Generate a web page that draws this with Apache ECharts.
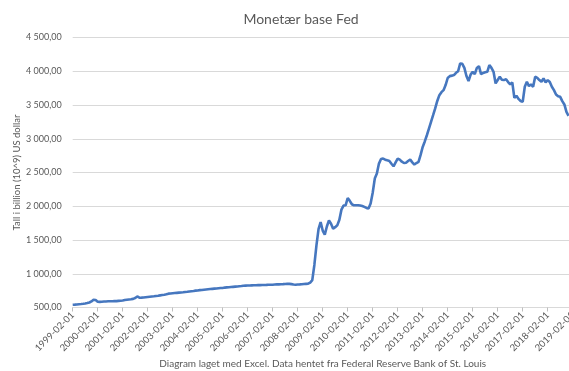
<!DOCTYPE html>
<html>
<head>
<meta charset="utf-8">
<script src="https://cdn.jsdelivr.net/npm/echarts@6/dist/echarts.min.js"></script>
<style>
  html, body { margin: 0; padding: 0; background: #fff; }
  #chart { width: 569px; height: 371px; }
</style>
</head>
<body>
<div id="chart"></div>
<script>
// monthly values, billion USD
var y1999 = [540, 542, 545, 548, 551, 555, 560, 566, 574, 590, 615]; // Feb-Dec
var y2000 = [612, 586, 584, 586, 588, 590, 592, 593, 593, 594, 595, 598];
var y2001 = [600, 603, 610, 614, 618, 622, 628, 640, 663, 645, 646, 648];
var y2002 = [652, 656, 660, 664, 667, 671, 675, 680, 684, 688, 695, 705];
var y2003 = [708, 711, 714, 717, 720, 723, 726, 730, 733, 737, 741, 745];
var y2004 = [750, 753, 757, 760, 764, 767, 770, 773, 776, 779, 782, 785];
var y2005 = [788, 790, 795, 798, 800, 803, 806, 809, 812, 815, 818, 822];
var y2006 = [824, 826, 827, 828, 829, 830, 831, 832, 833, 834, 835, 837];
var y2007 = [837, 838, 840, 842, 843, 845, 846, 848, 852, 850, 846, 840];
var y2008 = [837, 840, 842, 845, 848, 850, 852, 870, 905, 1130, 1420, 1660];
var y2009 = [1766, 1640, 1580, 1700, 1790, 1740, 1668, 1690, 1717, 1800, 1950, 2010];
var y2010 = [2014, 2122, 2080, 2030, 2014, 2015, 2015, 2010, 2003, 1990, 1975, 1965];
var y2011 = [2039, 2200, 2410, 2484, 2632, 2700, 2707, 2690, 2680, 2671, 2630, 2592];
var y2012 = [2650, 2707, 2690, 2660, 2641, 2645, 2670, 2692, 2650, 2618, 2640, 2657];
var y2013 = [2760, 2879, 2960, 3052, 3150, 3250, 3349, 3450, 3560, 3646, 3690, 3720];
var y2014 = [3795, 3900, 3928, 3935, 3943, 3977, 4000, 4116, 4110, 4050, 3930, 3854];
var y2015 = [3950, 3992, 3958, 4050, 4076, 3958, 3975, 3985, 3992, 4091, 4050, 3992];
var y2016 = [3820, 3870, 3918, 3875, 3869, 3883, 3840, 3805, 3835, 3606, 3636, 3590];
var y2017 = [3560, 3547, 3770, 3844, 3780, 3805, 3770, 3918, 3903, 3870, 3844, 3893];
var y2018 = [3835, 3869, 3840, 3770, 3720, 3656, 3630, 3621, 3557, 3508, 3398, 3340];

var values = [].concat(y1999, y2000, y2001, y2002, y2003, y2004, y2005, y2006,
  y2007, y2008, y2009, y2010, y2011, y2012, y2013, y2014, y2015, y2016, y2017, y2018);

// month categories 1999-02-01 .. 2019-02-01
var firstYear = 1999, lastYear = 2019;
var months = [];
for (var yr = firstYear; yr <= lastYear; yr++) {
  for (var mo = 1; mo <= 12; mo++) {
    if (yr === firstYear && mo < 2) continue;
    if (yr === lastYear && mo > 2) break;
    months.push(yr + '-' + (mo < 10 ? '0' + mo : mo) + '-01');
  }
}

var yTicks = [500, 1000, 1500, 2000, 2500, 3000, 3500, 4000, 4500];

function fmt(v) {
  return String(v).replace(/\B(?=(\d{3})+(?!\d))/g, ' ') + ',00';
}

var grey = '#595959';
var chart = echarts.init(document.getElementById('chart'), null, { renderer: 'canvas' });
chart.setOption({
  backgroundColor: '#fff',
  animation: false,
  textStyle: { fontFamily: 'Lato' },
  title: {
    text: 'Monetær base Fed',
    left: 296,
    top: 7,
    textAlign: 'center',
    textStyle: { fontSize: 14, fontWeight: 'normal', color: grey, fontFamily: 'Lato' }
  },
  // the original picture is cropped on the right, so the plot runs past the edge
  grid: { left: 72.7, width: 500, top: 37.5, height: 270, containLabel: false, outerBoundsMode: 'none' },
  xAxis: {
    type: 'category',
    data: months,
    boundaryGap: false,
    name: 'Diagram laget med Excel. Data hentet fra Federal Reserve Bank of St. Louis',
    nameLocation: 'middle',
    nameGap: 51,
    nameMoveOverlap: false,
    nameTextStyle: { fontSize: 10, color: grey },
    axisLine: { lineStyle: { color: '#d9d9d9', width: 1 } },
    axisTick: { show: true, interval: 11, length: 4, lineStyle: { color: '#bfbfbf' } },
    axisLabel: { interval: 11, rotate: 45, fontSize: 9.5, color: grey, margin: 6 },
    splitLine: { show: false }
  },
  yAxis: {
    type: 'value',
    min: yTicks[0],
    max: yTicks[yTicks.length - 1],
    interval: 500,
    name: 'Tall i billion (10^9) US dollar',
    nameLocation: 'middle',
    nameGap: 51,
    nameMoveOverlap: false,
    nameTextStyle: { fontSize: 9.5, color: grey },
    axisLine: { show: false },
    axisTick: { show: false },
    axisLabel: { fontSize: 9, color: grey, margin: 11, formatter: fmt },
    splitLine: { lineStyle: { color: '#d9d9d9', width: 1 } }
  },
  series: [{
    type: 'line',
    data: values,
    showSymbol: false,
    lineStyle: { color: '#4677bf', width: 2.6 },
    itemStyle: { color: '#4677bf' }
  }]
});
</script>
</body>
</html>
